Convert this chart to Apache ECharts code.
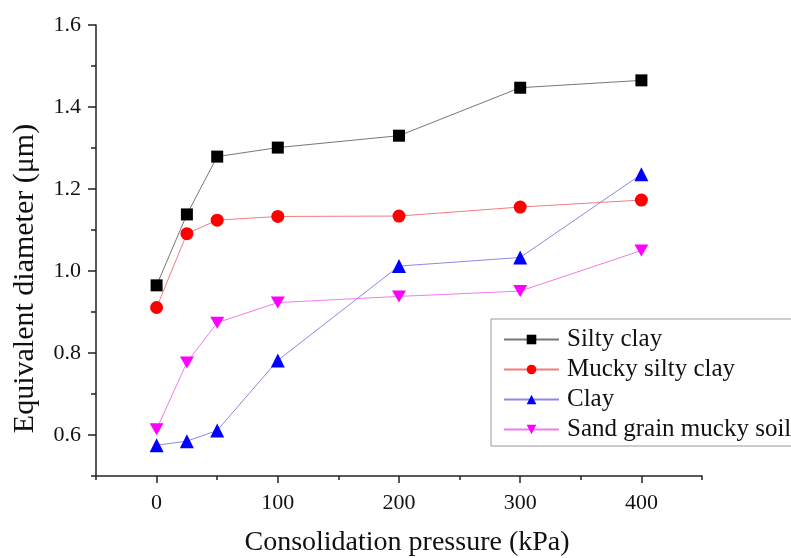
<!DOCTYPE html>
<html>
<head>
<meta charset="utf-8">
<script src="https://cdn.jsdelivr.net/npm/echarts@6/dist/echarts.min.js"></script>
<style>html,body{margin:0;padding:0;background:#fff}#c{width:791px;height:558px}</style>
</head>
<body>
<div id="c"></div>
<script>
var pressures = [0, 25, 50, 100, 200, 300, 400];
var siltyClay = [0.965, 1.138, 1.279, 1.301, 1.330, 1.447, 1.465];
var muckySiltyClay = [0.911, 1.091, 1.124, 1.133, 1.134, 1.156, 1.173];
var clay = [0.575, 0.585, 0.611, 0.782, 1.012, 1.033, 1.236];
var sandGrainMuckySoil = [0.614, 0.777, 0.874, 0.923, 0.938, 0.951, 1.050];
var seriesNames = ['Silty clay', 'Mucky silty clay', 'Clay', 'Sand grain mucky soil'];
var xMajor = [0, 100, 200, 300, 400];
var xMinor = [-50, 50, 150, 250, 350, 450];
var yMajor = [0.6, 0.8, 1.0, 1.2, 1.4, 1.6];
var yMinor = [0.5, 0.7, 0.9, 1.1, 1.3, 1.5];

function pairs(ys) { return pressures.map(function (x, i) { return [x, ys[i]]; }); }

var FONT = '"Liberation Serif", "Times New Roman", serif';
var chart = echarts.init(document.getElementById('c'));
var downTri = 'path://M0,0 L10,0 L5,9 Z';
var AX = '#222';

chart.setOption({
  animation: false,
  backgroundColor: '#fff',
  grid: { left: 96, right: 89, top: 25, bottom: 82, containLabel: false, outerBoundsMode: 'none' },
  legend: {
    orient: 'vertical',
    left: 491, top: 319,
    padding: [8, 10, 4, 12],
    borderColor: '#999', borderWidth: 1,
    itemWidth: 55, itemHeight: 12, itemGap: 5,
    textStyle: { fontFamily: FONT, fontSize: 25, color: '#111', padding: [0, 0, 0, 3] },
    data: seriesNames
  },
  xAxis: [{
    type: 'value', min: -50, max: 450, interval: 50,
    axisLine: { show: true, onZero: false, lineStyle: { color: AX, width: 1.5 } },
    axisTick: { show: true, length: 7, lineStyle: { color: AX, width: 1.5 }, customValues: xMajor },
    axisLabel: { fontFamily: FONT, fontSize: 22, color: '#111', margin: 16, customValues: xMajor },
    splitLine: { show: false },
    name: 'Consolidation pressure (kPa)', nameLocation: 'middle', nameGap: 53,
    nameTextStyle: { fontFamily: FONT, fontSize: 28, color: '#111', padding: [0, 0, 0, 16] }
  }, {
    type: 'value', min: -50, max: 450, interval: 50, position: 'bottom',
    axisLine: { show: false, onZero: false },
    axisTick: { show: true, length: 4, lineStyle: { color: AX, width: 1.5 }, customValues: xMinor },
    axisLabel: { show: false },
    splitLine: { show: false }
  }],
  yAxis: [{
    type: 'value', min: 0.5, max: 1.6, interval: 0.1,
    axisLine: { show: true, onZero: false, lineStyle: { color: AX, width: 1.5 } },
    axisTick: { show: true, length: 8, lineStyle: { color: AX, width: 1.5 }, customValues: yMajor },
    axisLabel: { fontFamily: FONT, fontSize: 22, color: '#111', margin: 15, customValues: yMajor,
      formatter: function (v) { return v.toFixed(1); } },
    splitLine: { show: false },
    name: 'Equivalent diameter (\u03bcm)', nameLocation: 'middle', nameGap: 56,
    nameTextStyle: { fontFamily: FONT, fontSize: 30, color: '#111', padding: [0, 56, 0, 0] }
  }, {
    type: 'value', min: 0.5, max: 1.6, interval: 0.1, position: 'left',
    axisLine: { show: false, onZero: false },
    axisTick: { show: true, length: 5, lineStyle: { color: AX, width: 1.5 }, customValues: yMinor },
    axisLabel: { show: false },
    splitLine: { show: false }
  }],
  series: [
    { name: seriesNames[0], type: 'line', data: pairs(siltyClay), symbol: 'rect', symbolSize: 12,
      itemStyle: { color: '#000' }, lineStyle: { color: '#777', width: 1 } },
    { name: seriesNames[1], type: 'line', data: pairs(muckySiltyClay), symbol: 'circle', symbolSize: 13,
      itemStyle: { color: '#ff0000' }, lineStyle: { color: '#f47c7c', width: 1 } },
    { name: seriesNames[2], type: 'line', data: pairs(clay), symbol: 'triangle', symbolSize: 14,
      itemStyle: { color: '#0000ff' }, lineStyle: { color: '#8a8ae6', width: 1 } },
    { name: seriesNames[3], type: 'line', data: pairs(sandGrainMuckySoil), symbol: downTri, symbolSize: [14, 12],
      itemStyle: { color: '#ff00ff' }, lineStyle: { color: '#f07cf0', width: 1 } }
  ]
});
</script>
</body>
</html>
